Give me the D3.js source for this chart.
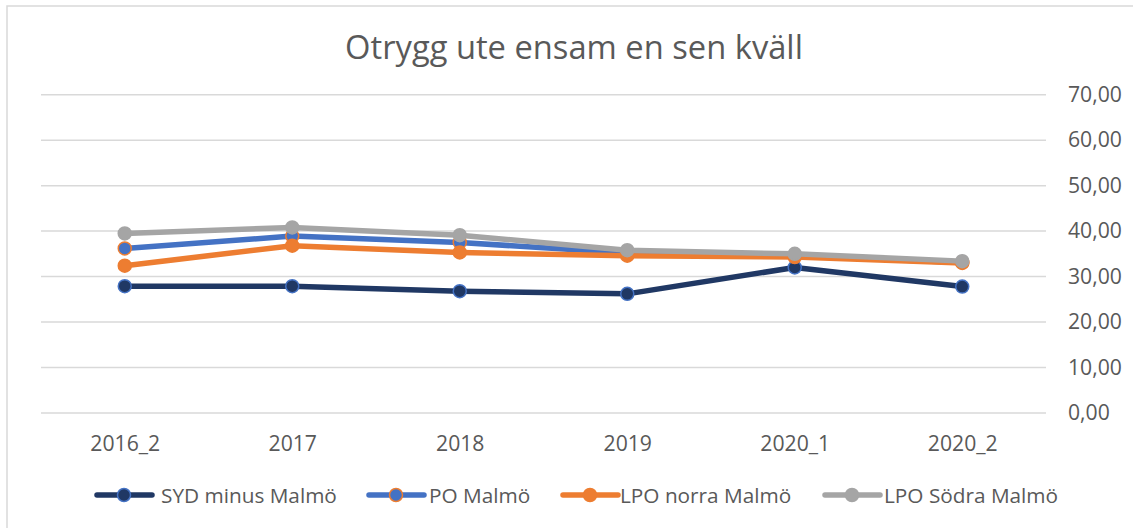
<!DOCTYPE html>
<html><head><meta charset="utf-8">
<script src="https://cdn.jsdelivr.net/npm/d3@7"></script>
<style>body{margin:0;background:#fff}svg{display:block}text{font-family:"Open Sans",sans-serif;fill:#595959}</style>
</head><body>
<script>
const categories = ["2016_2","2017","2018","2019","2020_1","2020_2"];
const sydMinusMalmo = [27.9, 27.9, 26.8, 26.2, 32.0, 27.8];
const poMalmo = [36.2, 38.9, 37.5, 35.2, 34.6, 33.1];
const lpoNorraMalmo = [32.4, 36.8, 35.3, 34.6, 34.3, 33.0];
const lpoSodraMalmo = [39.5, 40.8, 39.1, 35.8, 35.0, 33.4];
const yTicks = [0,10,20,30,40,50,60,70];
const seriesNames = ["SYD minus Malmö","PO Malmö","LPO norra Malmö","LPO Södra Malmö"];
const title = "Otrygg ute ensam en sen kväll";

const series = [
  {name: seriesNames[0], values: sydMinusMalmo, line:"#203864", fill:"#203864", stroke:"#4472C4"},
  {name: seriesNames[1], values: poMalmo, line:"#4472C4", fill:"#4472C4", stroke:"#ED7D31"},
  {name: seriesNames[2], values: lpoNorraMalmo, line:"#ED7D31", fill:"#ED7D31", stroke:"#ED7D31"},
  {name: seriesNames[3], values: lpoSodraMalmo, line:"#A5A5A5", fill:"#A5A5A5", stroke:"#A5A5A5"}
];

const W=1133,H=528;
const svg=d3.select("body").append("svg").attr("width",W).attr("height",H);
svg.append("rect").attr("x",7).attr("y",6).attr("width",1200).attr("height",600)
  .attr("fill","#fff").attr("stroke","#d9d9d9").attr("stroke-width",1.5);

const x=d3.scalePoint().domain(categories).range([41,1046]).padding(0.5);
const y=d3.scaleLinear().domain([0,70]).range([413,94.7]);

function fit(sel,w){const l=sel.node().getComputedTextLength();const fs=parseFloat(sel.attr("font-size"));sel.attr("font-size",fs*w/l);}

const t=svg.append("text").attr("x",574).attr("y",59).attr("text-anchor","middle").attr("font-size",30).text(title);
fit(t,458);

// grid
const yAxis=d3.axisRight(y).tickValues(yTicks).tickSize(0).tickFormat(d=>d3.format(".2f")(d).replace(".",","));
svg.append("g").selectAll("line").data(yTicks).join("line")
  .attr("x1",41).attr("x2",1046).attr("y1",d=>y(d)).attr("y2",d=>y(d))
  .attr("stroke","#d9d9d9").attr("stroke-width",1.5);
const ga=svg.append("g").attr("transform","translate(1068,0)").call(yAxis);
ga.select(".domain").remove();
ga.selectAll("text").attr("x",0).attr("text-anchor","start").attr("font-size",20).attr("fill","#595959").style("font-family","Open Sans");
const lab70=ga.selectAll("text").filter(d=>d===70);
const fs=20*54/lab70.node().getComputedTextLength();
ga.selectAll("text").attr("font-size",fs);

const xAxis=d3.axisBottom(x).tickSize(0);
const gx=svg.append("g").attr("transform","translate(0,413)").call(xAxis);
gx.select(".domain").remove();
gx.selectAll("text").attr("y",0).attr("dy",0).attr("transform","translate(0,38)").attr("font-size",fs).attr("fill","#595959").style("font-family","Open Sans");

const line=d3.line().x((d,i)=>x(categories[i])).y(d=>y(d));
series.forEach(s=>{
  const g=svg.append("g");
  g.append("path").attr("d",line(s.values)).attr("fill","none").attr("stroke",s.line)
    .attr("stroke-width",5.5).attr("stroke-linejoin","round").attr("stroke-linecap","round");
  g.selectAll("circle").data(s.values).join("circle")
    .attr("cx",(d,i)=>x(categories[i])).attr("cy",d=>y(d)).attr("r",6.5)
    .attr("fill",s.fill).attr("stroke",s.stroke).attr("stroke-width",1.5);
});

// legend
const legX=[97,369,563,825];
const legW=[176,0,0,0];
series.forEach((s,i)=>{
  const g=svg.append("g").attr("transform",`translate(${legX[i]},495)`);
  g.append("line").attr("x1",0).attr("x2",55).attr("y1",0).attr("y2",0).attr("stroke",s.line).attr("stroke-width",5.5).attr("stroke-linecap","round");
  g.append("circle").attr("cx",27).attr("cy",0).attr("r",6.5).attr("fill",s.fill).attr("stroke",s.stroke).attr("stroke-width",1.5);
  const tx=g.append("text").attr("x",i===0?64:(i===1?60:(i===2?57:59))).attr("y",8).attr("font-size",20).text(s.name);
  if(i===0){fit(tx,176);} 
  tx.attr("data-i",i);
});
const lfs=+svg.selectAll("text[data-i='0']").attr("font-size");
svg.selectAll("text[data-i]").attr("font-size",lfs);
</script>
</body></html>
